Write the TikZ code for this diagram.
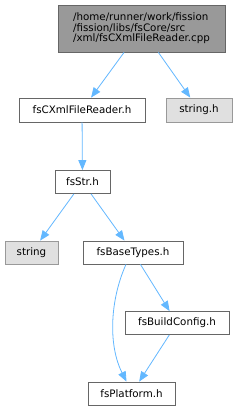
\documentclass[tikz,border=0pt]{standalone}
\usepackage{fontspec}
\setmainfont{DejaVu Sans}
\usetikzlibrary{arrows.meta,calc}
\definecolor{edgeblue}{HTML}{63B8FF}
\definecolor{boxborder}{HTML}{666666}
\definecolor{extborder}{HTML}{999999}
\definecolor{extfill}{HTML}{E0E0E0}
\definecolor{topfill}{HTML}{999999}
\tikzset{
  filebox/.style={draw=boxborder, fill=white, line width=0.8pt, inner sep=0pt, minimum height=23pt, font=\fontsize{10.3}{12}\selectfont, text=black},
  extbox/.style={filebox, draw=extborder, fill=extfill},
  topbox/.style={filebox, fill=topfill, align=left, font=\fontsize{10.3}{10.6}\selectfont},
  dep/.style={draw=edgeblue, line width=0.8pt, -{Triangle[length=10pt,width=8pt]}}
}
\begin{document}
\begin{tikzpicture}[x=1pt,y=-1pt]
\fill[white] (0,0) rectangle (238,411);
\useasboundingbox (0,0) rectangle (238,411);
\node[topbox, minimum width=167pt, minimum height=47pt] (top) at (141.5,28.5) {/home/runner/work/fission\\/fission/libs/fsCore/src\\/xml/fsCXmlFileReader.cpp};
\node[filebox, minimum width=126pt, minimum height=24pt] (reader) at (82,110) {fsCXmlFileReader.h};
\node[extbox, minimum width=66pt, minimum height=24pt] (stringh) at (199,110) {string.h};
\node[filebox, minimum width=55pt] (str) at (82.5,182) {fsStr.h};
\node[extbox, minimum width=53pt] (string) at (31.5,252.5) {string};
\node[filebox, minimum width=100pt] (base) at (133,252.5) {fsBaseTypes.h};
\node[filebox, minimum width=104pt] (build) at (177,323) {fsBuildConfig.h};
\node[filebox, minimum width=87pt] (plat) at (131.5,393.5) {fsPlatform.h};
\draw[dep] (top) -- (reader);
\draw[dep] (top) -- (stringh);
\draw[dep] (reader) -- (str);
\draw[dep] (str) -- (string);
\draw[dep] (str) -- (base);
\draw[dep] (base) -- (build);
\draw[dep] (build) -- (plat);
\draw[dep] ($(base.south)+(-7,0)$) .. controls (110,300) and (108,345) .. ($(plat.north)+(-5,0)$);
\end{tikzpicture}
\end{document}
